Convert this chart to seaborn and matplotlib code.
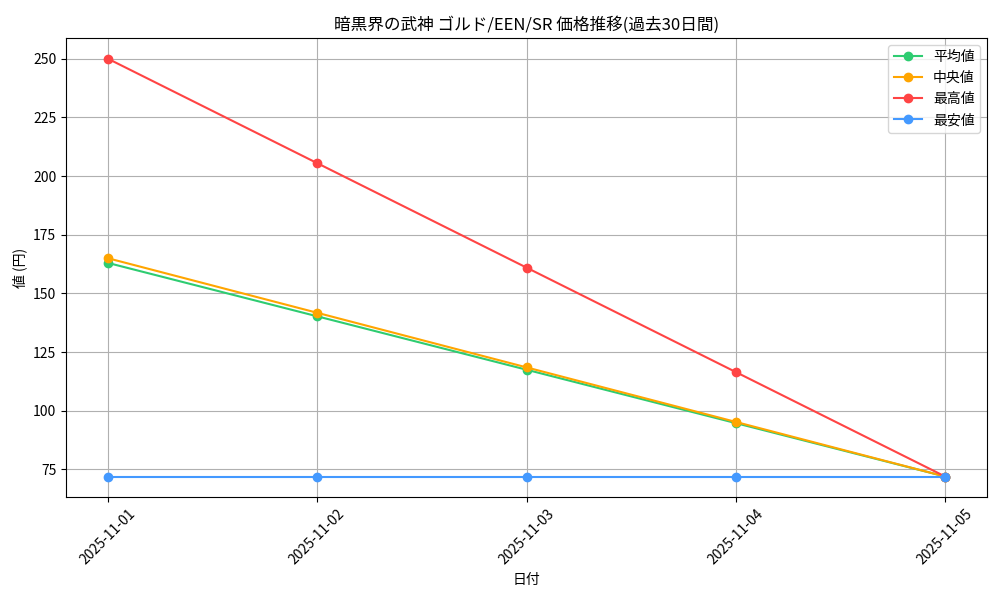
import matplotlib
matplotlib.use('Agg')
import matplotlib.pyplot as plt
import seaborn as sns
import pandas as pd

plt.rcParams['font.family'] = ['Noto Sans CJK JP', 'DejaVu Sans']
plt.rcParams['axes.unicode_minus'] = False

# データ
dates = ['2025-11-01', '2025-11-02', '2025-11-03', '2025-11-04', '2025-11-05']
avg_price = [163, 140.25, 117.5, 94.75, 72]
median_price = [165, 141.75, 118.5, 95.25, 72]
max_price = [250, 205.5, 161, 116.5, 72]
min_price = [72, 72, 72, 72, 72]

series_names = ['平均値', '中央値', '最高値', '最安値']
series_values = [avg_price, median_price, max_price, min_price]
colors = ['#2ecc71', '#ffa500', '#ff4444', '#4499ff']

fig, ax = plt.subplots(figsize=(10, 6), dpi=100)

for name, vals, c in zip(series_names, series_values, colors):
    sns.lineplot(x=dates, y=vals, marker='o', color=c, label=name,
                 markeredgecolor=c, markeredgewidth=1, markersize=6, ax=ax)

ax.set_title('暗黒界の武神 ゴルド/EEN/SR 価格推移(過去30日間)')
ax.set_xlabel('日付')
ax.set_ylabel('値 (円)')
ax.grid(True)
ax.legend(loc='upper right')
plt.xticks(rotation=45)

plt.subplots_adjust(left=0.066, right=0.987, top=0.937, bottom=0.171)
plt.savefig('out.png', dpi=100)
